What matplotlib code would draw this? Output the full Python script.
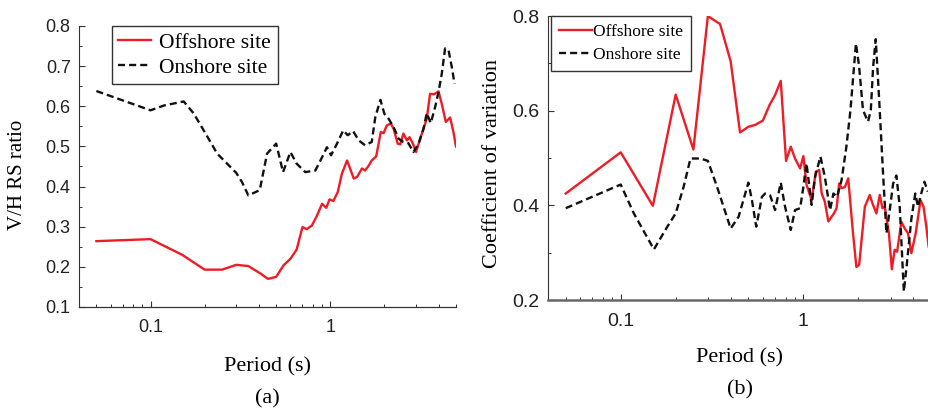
import matplotlib
matplotlib.use("Agg")
import matplotlib.pyplot as plt
from matplotlib.ticker import LogLocator, MultipleLocator, NullFormatter, FuncFormatter

# V/H response spectral ratio (a)
period_off_a = [0.05, 0.10, 0.15, 0.20, 0.25, 0.30, 0.35, 0.41, 0.45, 0.50, 0.55, 0.60,
                0.65, 0.70, 0.74, 0.79, 0.84, 0.90, 0.95, 0.99, 1.04, 1.10, 1.16, 1.24,
                1.35, 1.41, 1.50, 1.56, 1.63, 1.70, 1.80, 1.91, 1.98, 2.06, 2.17, 2.25,
                2.37, 2.45, 2.55, 2.67, 2.76, 2.88, 3.00, 3.16, 3.30, 3.44, 3.59, 3.78,
                4.00, 4.17, 4.39, 4.64, 4.84, 5.00]
ratio_off = [0.264, 0.269, 0.230, 0.193, 0.193, 0.205, 0.202, 0.183, 0.170, 0.175, 0.204, 0.220,
             0.243, 0.299, 0.294, 0.303, 0.326, 0.357, 0.347, 0.368, 0.364, 0.386, 0.432, 0.465,
             0.420, 0.424, 0.445, 0.440, 0.451, 0.465, 0.475, 0.536, 0.533, 0.552, 0.557, 0.544,
             0.507, 0.505, 0.532, 0.515, 0.523, 0.507, 0.486, 0.519, 0.544, 0.569, 0.631, 0.630,
             0.637, 0.606, 0.561, 0.572, 0.536, 0.500]

period_on_a = [0.05, 0.10, 0.119, 0.153, 0.174, 0.20, 0.235, 0.30, 0.323, 0.35, 0.405, 0.445,
               0.50, 0.546, 0.60, 0.65, 0.726, 0.826, 0.90, 0.958, 1.01, 1.09, 1.18, 1.25,
               1.34, 1.44, 1.56, 1.70, 1.78, 1.90, 2.00, 2.11, 2.25, 2.40, 2.55, 2.72,
               2.90, 3.10, 3.30, 3.44, 3.62, 3.83, 4.00, 4.17, 4.35, 4.54, 4.74, 4.91]
ratio_on = [0.638, 0.590, 0.602, 0.612, 0.582, 0.536, 0.482, 0.434, 0.411, 0.378, 0.391, 0.482,
            0.507, 0.436, 0.486, 0.457, 0.436, 0.440, 0.473, 0.498, 0.478, 0.507, 0.540, 0.528,
            0.538, 0.515, 0.503, 0.511, 0.573, 0.616, 0.581, 0.569, 0.548, 0.519, 0.511, 0.508,
            0.486, 0.507, 0.544, 0.583, 0.558, 0.598, 0.636, 0.681, 0.744, 0.741, 0.698, 0.656]

# coefficient of variation (b)
period_off_b = [0.05, 0.10, 0.15, 0.20, 0.25, 0.30, 0.35, 0.40, 0.45, 0.50, 0.545, 0.60,
                0.653, 0.70, 0.752, 0.804, 0.853, 0.90, 0.96, 1.00, 1.04, 1.11, 1.17, 1.22,
                1.26, 1.31, 1.37, 1.47, 1.52, 1.57, 1.62, 1.69, 1.76, 1.87, 1.95, 2.02,
                2.17, 2.31, 2.39, 2.51, 2.62, 2.71, 2.79, 2.94, 3.05, 3.16, 3.26, 3.44,
                3.59, 3.74, 3.90, 4.12, 4.38, 4.55, 4.71, 4.85]
cov_off = [0.425, 0.512, 0.399, 0.634, 0.518, 0.800, 0.783, 0.704, 0.554, 0.566, 0.570, 0.579,
           0.612, 0.633, 0.663, 0.494, 0.524, 0.499, 0.478, 0.504, 0.444, 0.411, 0.471, 0.475,
           0.425, 0.408, 0.366, 0.383, 0.394, 0.446, 0.436, 0.439, 0.457, 0.341, 0.270, 0.274,
           0.397, 0.422, 0.404, 0.383, 0.422, 0.394, 0.397, 0.341, 0.265, 0.306, 0.302, 0.365,
           0.351, 0.341, 0.299, 0.341, 0.411, 0.397, 0.355, 0.313]

period_on_b = [0.05, 0.10, 0.118, 0.152, 0.18, 0.20, 0.221, 0.241, 0.273, 0.30, 0.337, 0.40,
               0.442, 0.50, 0.523, 0.552, 0.593, 0.618, 0.658, 0.70, 0.752, 0.794, 0.853, 0.90,
               0.96, 1.00, 1.04, 1.11, 1.16, 1.24, 1.31, 1.40, 1.46, 1.53, 1.62, 1.72,
               1.81, 1.94, 2.02, 2.12, 2.26, 2.34, 2.41, 2.49, 2.60, 2.73, 2.85, 2.97,
               3.10, 3.23, 3.37, 3.48, 3.55, 3.69, 3.90, 4.10, 4.24, 4.42, 4.60, 4.80]
cov_on = [0.394, 0.444, 0.383, 0.307, 0.355, 0.383, 0.439, 0.499, 0.499, 0.494, 0.439, 0.351,
          0.376, 0.448, 0.411, 0.355, 0.418, 0.425, 0.421, 0.390, 0.448, 0.397, 0.348, 0.390,
          0.394, 0.439, 0.489, 0.401, 0.461, 0.503, 0.461, 0.390, 0.425, 0.418, 0.454, 0.524,
          0.601, 0.742, 0.693, 0.601, 0.577, 0.601, 0.693, 0.751, 0.623, 0.468, 0.341, 0.390,
          0.446, 0.463, 0.397, 0.285, 0.218, 0.278, 0.371, 0.425, 0.397, 0.425, 0.450, 0.429]

RED = "#ee1c25"
BLACK = "#111111"
SERIF = "Liberation Serif"
SANS = "Liberation Sans"

fig = plt.figure(figsize=(9.29, 4.12), dpi=100)
ax1 = fig.add_axes([0.0850, 0.2549, 0.4058, 0.6820])
ax2 = fig.add_axes([0.5899, 0.2718, 0.4123, 0.6893])


def tick_fmt(v, pos):
    return "%g" % v


def style_axes(ax, tick_size, spine_color, bottom_lw):
    ax.set_xscale("log")
    ax.set_xlim(0.04, 5)
    ax.xaxis.set_major_locator(LogLocator(base=10))
    ax.xaxis.set_minor_locator(LogLocator(base=10, subs=range(2, 10)))
    ax.xaxis.set_major_formatter(FuncFormatter(tick_fmt))
    ax.xaxis.set_minor_formatter(NullFormatter())
    for side in ("top", "right"):
        ax.spines[side].set_visible(False)
    ax.spines["left"].set_color("#333333")
    ax.spines["bottom"].set_color(spine_color)
    ax.spines["bottom"].set_linewidth(bottom_lw)
    ax.tick_params(which="both", direction="in", colors="#333333", labelcolor="#222222")
    ax.tick_params(which="major", length=4, width=0.8, labelsize=tick_size)
    ax.tick_params(which="minor", length=2.5, width=0.7)
    ax.tick_params(axis="x", pad=9)
    ax.tick_params(axis="y", pad=6)
    for lab in ax.get_xticklabels() + ax.get_yticklabels():
        lab.set_family(SANS)


# (a)
ax1.plot(period_off_a, ratio_off, color=RED, lw=1.7, label="Offshore site")
ax1.plot(period_on_a, ratio_on, color=BLACK, lw=1.7, dashes=(3.0, 1.7), label="Onshore site")
ax1.set_ylim(0.1, 0.8)
ax1.yaxis.set_major_locator(MultipleLocator(0.1))
ax1.yaxis.set_minor_locator(MultipleLocator(0.05))
ax1.yaxis.set_major_formatter(FuncFormatter(lambda v, p: "%.1f" % v))
style_axes(ax1, 13, "#333333", 0.9)
ax1.set_ylabel("V/H RS ratio", family=SERIF, fontsize=15, va="center")
ax1.yaxis.set_label_coords(-0.164, 0.47)
ax1.set_xlabel("Period (s)", family=SERIF, fontsize=16, va="top")
ax1.xaxis.set_label_coords(0.5, -0.178)
ax1.legend(loc="upper left", bbox_to_anchor=(0.0875, 1.0), borderaxespad=0,
           prop={"family": SERIF, "size": 15.5}, handlelength=1.5, handletextpad=0.4,
           labelspacing=0.25, borderpad=0.3, fancybox=False, framealpha=1,
           edgecolor="#333333")

# (b)
ax2.plot(period_off_b, cov_off, color=RED, lw=1.7, label="Offshore site")
ax2.plot(period_on_b, cov_on, color=BLACK, lw=1.7, dashes=(3.0, 1.7), label="Onshore site")
ax2.set_ylim(0.2, 0.8)
ax2.yaxis.set_major_locator(MultipleLocator(0.2))
ax2.yaxis.set_minor_locator(MultipleLocator(0.1))
ax2.yaxis.set_major_formatter(FuncFormatter(lambda v, p: "%.1f" % v))
style_axes(ax2, 14, "#666666", 1.8)
ax2.set_ylabel("Coefficient of variation", family=SERIF, fontsize=16, va="center")
ax2.yaxis.set_label_coords(-0.146, 0.48)
ax2.set_xlabel("Period (s)", family=SERIF, fontsize=16, va="top")
ax2.xaxis.set_label_coords(0.5, -0.169)
ax2.legend(loc="upper left", bbox_to_anchor=(0.008, 1.0), borderaxespad=0,
           prop={"family": SERIF, "size": 12.5}, handlelength=1.9, handletextpad=0.05,
           labelspacing=0.4, borderpad=0.45, fancybox=False, framealpha=1,
           edgecolor="#333333")

fig.text(267 / 929, 1 - 399 / 412, "(a)", family=SERIF, fontsize=16, ha="center", va="center")
fig.text(740 / 929, 1 - 390 / 412, "(b)", family=SERIF, fontsize=16, ha="center", va="center")

fig.savefig("out.png", dpi=100)
